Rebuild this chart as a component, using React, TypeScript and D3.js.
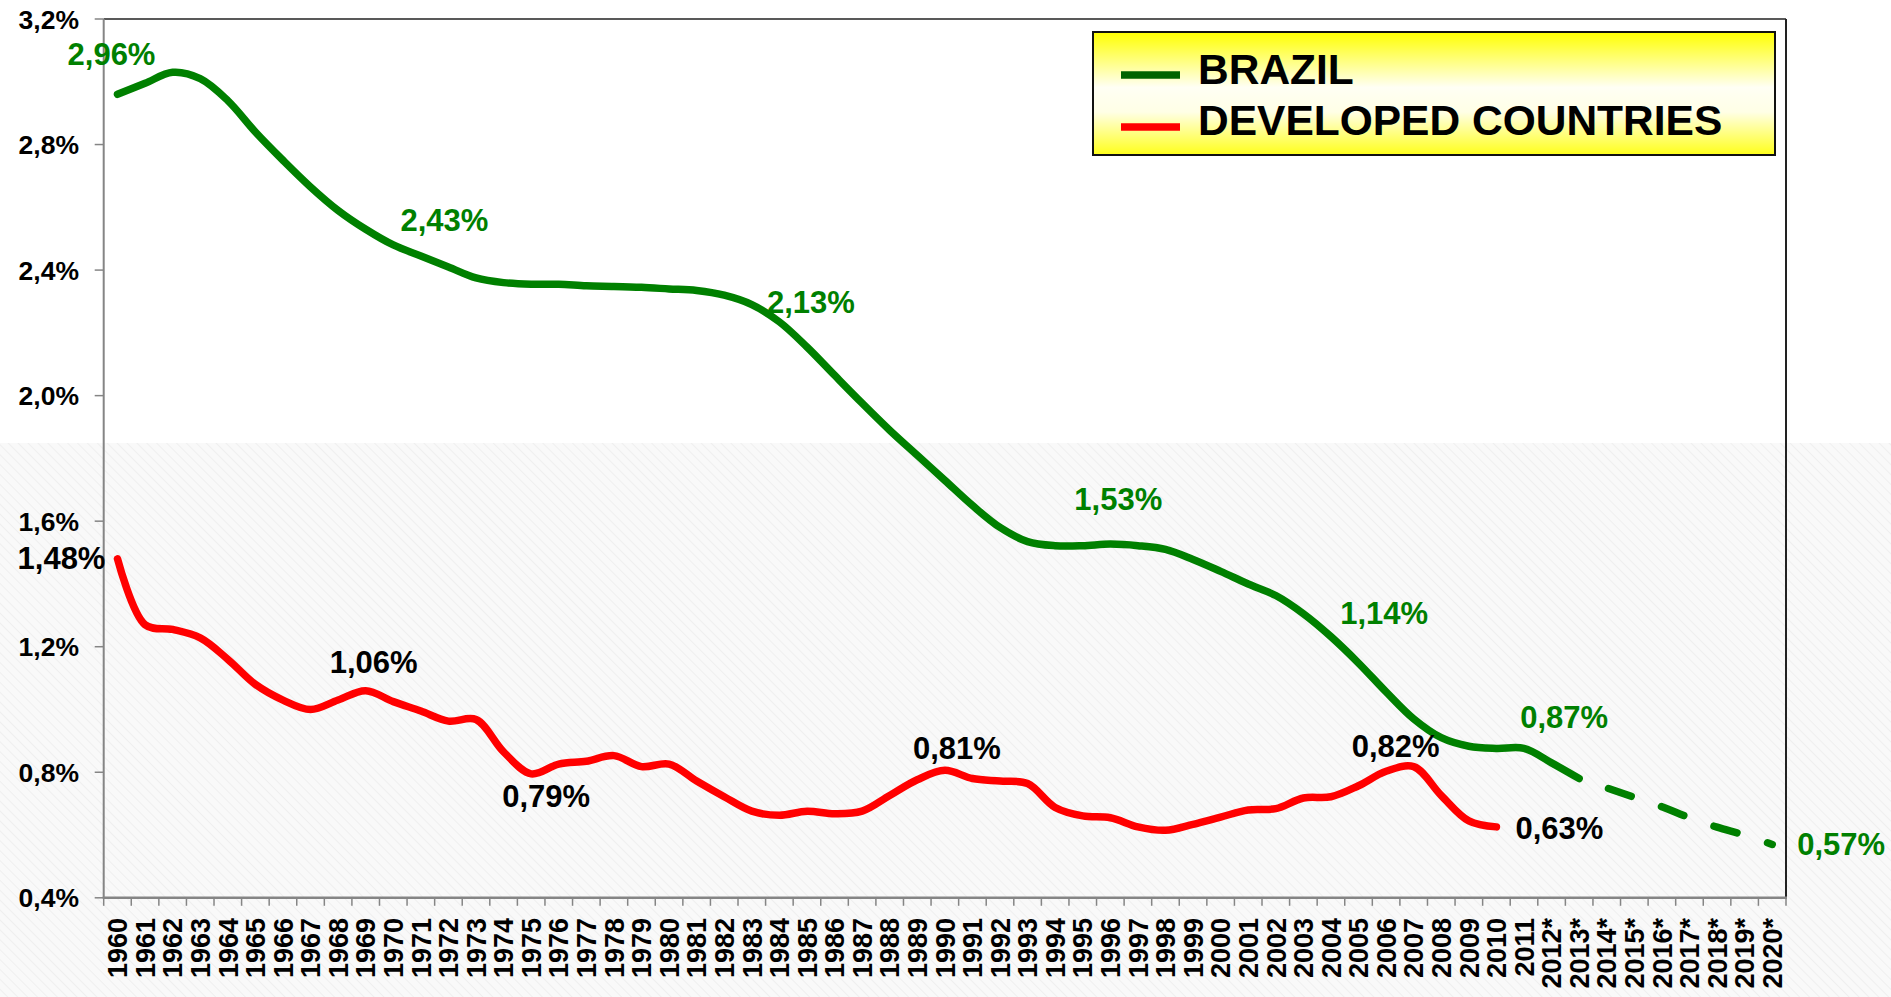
import React from 'react';
import * as d3 from 'd3';

const categories = [
  "1960","1961","1962","1963","1964","1965","1966","1967","1968","1969",
  "1970","1971","1972","1973","1974","1975","1976","1977","1978","1979",
  "1980","1981","1982","1983","1984","1985","1986","1987","1988","1989",
  "1990","1991","1992","1993","1994","1995","1996","1997","1998","1999",
  "2000","2001","2002","2003","2004","2005","2006","2007","2008","2009",
  "2010","2011","2012*","2013*","2014*","2015*","2016*","2017*","2018*","2019*","2020*"
];

const brazil = [
  2.96, 2.995, 3.03, 3.01, 2.94, 2.84, 2.75, 2.665, 2.59, 2.53,
  2.48, 2.445, 2.41, 2.375, 2.36, 2.355, 2.355, 2.35, 2.348, 2.345,
  2.34, 2.335, 2.32, 2.29, 2.235, 2.155, 2.065, 1.976, 1.89, 1.81,
  1.73, 1.65, 1.58, 1.535, 1.522, 1.522, 1.527, 1.522, 1.51, 1.478,
  1.44, 1.40, 1.363, 1.305, 1.232, 1.148, 1.056, 0.97, 0.91, 0.883,
  0.876, 0.876, 0.83, 0.78, 0.75, 0.72, 0.69, 0.655, 0.625, 0.60, 0.57
];

const developed = [
  1.48, 1.27, 1.255, 1.228, 1.16, 1.08, 1.03, 1.0, 1.03, 1.06,
  1.025, 0.995, 0.963, 0.968, 0.865, 0.795, 0.826, 0.835, 0.853, 0.818,
  0.826, 0.772, 0.722, 0.676, 0.663, 0.676, 0.668, 0.676, 0.726, 0.776,
  0.806, 0.78, 0.772, 0.764, 0.688, 0.661, 0.655, 0.626, 0.615, 0.634,
  0.657, 0.68, 0.684, 0.718, 0.722, 0.757, 0.803, 0.818, 0.726, 0.645,
  0.626
];

const yTicks = [0.4, 0.8, 1.2, 1.6, 2.0, 2.4, 2.8, 3.2];
const projectionStart = "2013*";

const brazilLabelYears = ["1960", "1972", "1985", "1996", "2006", "2013*", "2020*"];
const brazilLabelTexts = ["2,96%", "2,43%", "2,13%", "1,53%", "1,14%", "0,87%", "0,57%"];
const developedLabelYears = ["1960", "1969", "1975", "1990", "2007", "2010"];
const developedLabelTexts = ["1,48%", "1,06%", "0,79%", "0,81%", "0,82%", "0,63%"];

const legendNames = ["BRAZIL", "DEVELOPED COUNTRIES"];

// layout (pixel offsets of the data labels relative to their point)
const brazilLabelOffsets = [[-6, -29], [-4, -36], [4, -34], [8, -34], [-2, -68], [-15, -51], [69, 11]];
const developedLabelOffsets = [[-56, 10], [8, -18], [15, 33], [12, -11], [-18, -10], [63, 12]];

const FONT = "'Liberation Sans', Arial, sans-serif";

export default function App() {
  const W = 1891, H = 997;
  const m = { left: 103.7, right: 1786, top: 19, bottom: 897.8 };

  const x = d3.scaleBand<string>().domain(categories).range([m.left, m.right]).padding(0);
  const xc = (c: string) => (x(c) as number) + x.bandwidth() / 2;
  const y = d3.scaleLinear().domain([0.4, 3.2]).range([m.bottom, m.top]);

  const line = d3.line<[string, number]>()
    .x(d => xc(d[0]))
    .y(d => y(d[1]))
    .curve(d3.curveCatmullRom.alpha(0.5));

  const projIdx = categories.indexOf(projectionStart);
  const brazilPts: [string, number][] = brazil.map((v, i) => [categories[i], v]);
  const brazilSolid = brazilPts.slice(0, projIdx + 1);
  const brazilDashed = brazilPts.slice(projIdx);
  const devPts: [string, number][] = developed.map((v, i) => [categories[i], v]);

  const fmt = (v: number) => d3.format(".1f")(v).replace(".", ",") + "%";
  const boundaries = categories.map(c => x(c) as number).concat([m.right]);

  const green = "#008000";
  const red = "#ff0000";

  return (
    <svg width={W} height={H} style={{ position: 'absolute', left: 0, top: 0, display: 'block' }}
      fontFamily={FONT}>
      <defs>
        <pattern id="hatch" patternUnits="userSpaceOnUse" width="7" height="7" patternTransform="rotate(-45)">
          <rect width="7" height="7" fill="#f9f9f9" />
          <line x1="0" y1="0" x2="0" y2="7" stroke="#ededed" strokeWidth="1.6" />
        </pattern>
        <linearGradient id="legGrad" x1="0" y1="0" x2="0" y2="1">
          <stop offset="0" stopColor="#ffff00" />
          <stop offset="0.45" stopColor="#fffff4" />
          <stop offset="0.65" stopColor="#ffffe6" />
          <stop offset="1" stopColor="#ffff1a" />
        </linearGradient>
      </defs>
      <rect x={0} y={0} width={W} height={H} fill="#ffffff" />
      <rect x={0} y={443} width={W} height={H - 443} fill="url(#hatch)" />

      {/* frame */}
      <line x1={m.left} x2={m.right} y1={m.top} y2={m.top} stroke="#222" strokeWidth={1.5} />
      <line x1={m.right} x2={m.right} y1={m.top} y2={m.bottom} stroke="#222" strokeWidth={2} />
      <line x1={m.left} x2={m.left} y1={m.top} y2={m.bottom} stroke="#858585" strokeWidth={2} />
      <line x1={m.left - 1} x2={m.right + 1} y1={m.bottom} y2={m.bottom} stroke="#858585" strokeWidth={2.5} />

      {/* y ticks */}
      {yTicks.map(t => (
        <g key={t}>
          <line x1={m.left - 9} x2={m.left} y1={y(t)} y2={y(t)} stroke="#858585" strokeWidth={1.5} />
          <text x={79} y={y(t)} dy="0.36em" textAnchor="end" fontSize={26.5} fontWeight="bold" fill="#000">{fmt(t)}</text>
        </g>
      ))}

      {/* x ticks */}
      {boundaries.map((b, i) => (
        <line key={i} x1={b} x2={b} y1={m.bottom} y2={m.bottom + 8} stroke="#858585" strokeWidth={1.5} />
      ))}
      {categories.map(c => (
        <text key={c} transform={`translate(${xc(c)},918) rotate(-90)`} textAnchor="end" dy="0.36em"
          fontSize={27} fontWeight="bold" fill="#000">{c}</text>
      ))}

      {/* series */}
      <path d={line(devPts) || ""} fill="none" stroke={red} strokeWidth={7.5} strokeLinecap="round" strokeLinejoin="round" />
      <path d={line(brazilSolid) || ""} fill="none" stroke={green} strokeWidth={7.5} strokeLinecap="round" strokeLinejoin="round" />
      <path d={line(brazilDashed) || ""} fill="none" stroke={green} strokeWidth={7.5} strokeLinecap="round"
        strokeDasharray="24 32" strokeDashoffset={25} />

      {/* data labels */}
      {brazilLabelYears.map((yr, i) => {
        const v = brazil[categories.indexOf(yr)];
        return (
          <text key={"b" + i} x={xc(yr) + brazilLabelOffsets[i][0]} y={y(v) + brazilLabelOffsets[i][1]}
            textAnchor="middle" fontSize={31} fontWeight="bold" fill={green}>{brazilLabelTexts[i]}</text>
        );
      })}
      {developedLabelYears.map((yr, i) => {
        const v = developed[categories.indexOf(yr)];
        return (
          <text key={"d" + i} x={xc(yr) + developedLabelOffsets[i][0]} y={y(v) + developedLabelOffsets[i][1]}
            textAnchor="middle" fontSize={31} fontWeight="bold" fill="#000">{developedLabelTexts[i]}</text>
        );
      })}

      {/* legend */}
      <rect x={1093} y={32} width={682} height={123} fill="url(#legGrad)" stroke="#111" strokeWidth={2} />
      <line x1={1121} x2={1180} y1={75} y2={75} stroke="#006400" strokeWidth={7.5} />
      <line x1={1121} x2={1180} y1={127} y2={127} stroke={red} strokeWidth={7.5} />
      <text x={1198} y={84} fontSize={42.5} fontWeight="bold" fill="#000">{legendNames[0]}</text>
      <text x={1198} y={135} fontSize={42.5} fontWeight="bold" fill="#000">{legendNames[1]}</text>
    </svg>
  );
}
